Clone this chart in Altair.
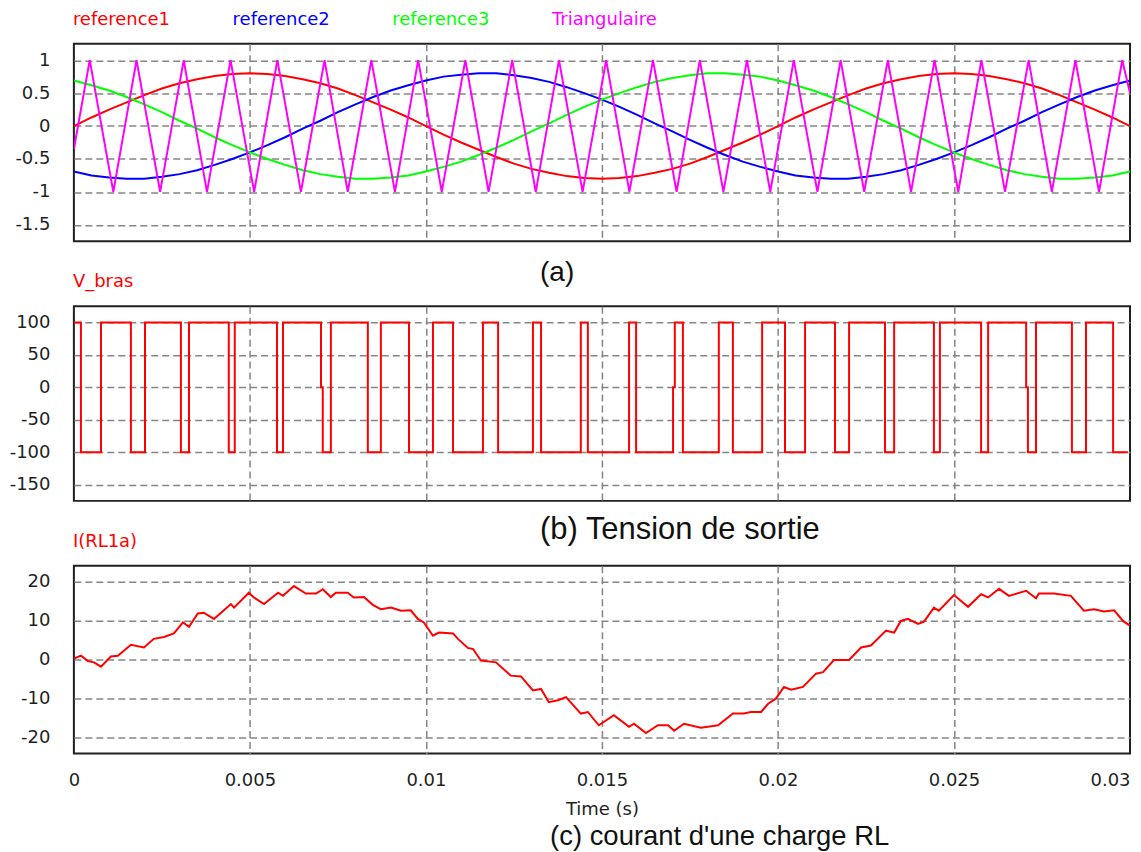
import altair as alt
import pandas as pd

# ---------------- data ----------------
T_REF = [0, 0.0005, 0.001, 0.0015, 0.002, 0.0025, 0.003, 0.0035, 0.004, 0.0045,
         0.005, 0.0055, 0.006, 0.0065, 0.007, 0.0075, 0.008, 0.0085, 0.009, 0.0095,
         0.01, 0.0105, 0.011, 0.0115, 0.012, 0.0125, 0.013, 0.0135, 0.014, 0.0145,
         0.015, 0.0155, 0.016, 0.0165, 0.017, 0.0175, 0.018, 0.0185, 0.019, 0.0195,
         0.02, 0.0205, 0.021, 0.0215, 0.022, 0.0225, 0.023, 0.0235, 0.024, 0.0245,
         0.025, 0.0255, 0.026, 0.0265, 0.027, 0.0275, 0.028, 0.0285, 0.029, 0.0295,
         0.03]

REF1 = [0, 0.13, 0.25, 0.36, 0.47, 0.57, 0.65, 0.71, 0.76, 0.79,
        0.80, 0.79, 0.76, 0.71, 0.65, 0.57, 0.47, 0.36, 0.25, 0.13,
        0, -0.13, -0.25, -0.36, -0.47, -0.57, -0.65, -0.71, -0.76, -0.79,
        -0.80, -0.79, -0.76, -0.71, -0.65, -0.57, -0.47, -0.36, -0.25, -0.13,
        0, 0.13, 0.25, 0.36, 0.47, 0.57, 0.65, 0.71, 0.76, 0.79,
        0.80, 0.79, 0.76, 0.71, 0.65, 0.57, 0.47, 0.36, 0.25, 0.13,
        0]

REF2 = [-0.69, -0.75, -0.78, -0.80, -0.80, -0.77, -0.73, -0.67, -0.59, -0.50,
        -0.40, -0.29, -0.17, -0.04, 0.08, 0.21, 0.33, 0.44, 0.54, 0.62,
        0.69, 0.75, 0.78, 0.80, 0.80, 0.77, 0.73, 0.67, 0.59, 0.50,
        0.40, 0.29, 0.17, 0.04, -0.08, -0.21, -0.33, -0.44, -0.54, -0.62,
        -0.69, -0.75, -0.78, -0.80, -0.80, -0.77, -0.73, -0.67, -0.59, -0.50,
        -0.40, -0.29, -0.17, -0.04, 0.08, 0.21, 0.33, 0.44, 0.54, 0.62,
        0.69]

REF3 = [0.69, 0.62, 0.54, 0.44, 0.33, 0.21, 0.08, -0.04, -0.17, -0.29,
        -0.40, -0.50, -0.59, -0.67, -0.73, -0.77, -0.80, -0.80, -0.78, -0.75,
        -0.69, -0.62, -0.54, -0.44, -0.33, -0.21, -0.08, 0.04, 0.17, 0.29,
        0.40, 0.50, 0.59, 0.67, 0.73, 0.77, 0.80, 0.80, 0.78, 0.75,
        0.69, 0.62, 0.54, 0.44, 0.33, 0.21, 0.08, -0.04, -0.17, -0.29,
        -0.40, -0.50, -0.59, -0.67, -0.73, -0.77, -0.80, -0.80, -0.78, -0.75,
        -0.69]

TRI_T = [0, 0.00045, 0.00112, 0.00178, 0.00245, 0.00312, 0.00378, 0.00445, 0.00512,
         0.00578, 0.00645, 0.00712, 0.00778, 0.00845, 0.00912, 0.00978, 0.01045,
         0.01112, 0.01178, 0.01245, 0.01312, 0.01378, 0.01445, 0.01512, 0.01578,
         0.01645, 0.01712, 0.01778, 0.01845, 0.01912, 0.01978, 0.02045, 0.02112,
         0.02178, 0.02245, 0.02312, 0.02378, 0.02445, 0.02512, 0.02578, 0.02645,
         0.02712, 0.02778, 0.02845, 0.02912, 0.02978, 0.03]
TRI_V = [-0.35, 1, -1, 1, -1, 1, -1, 1, -1,
         1, -1, 1, -1, 1, -1, 1, -1,
         1, -1, 1, -1, 1, -1, 1, -1,
         1, -1, 1, -1, 1, -1, 1, -1,
         1, -1, 1, -1, 1, -1, 1, -1,
         1, -1, 1, -1, 1, 0.5]

VB_T = [0, 0.0002, 0.00077, 0.00162, 0.00202, 0.00304, 0.00327, 0.0044, 0.00457,
        0.00577, 0.00594, 0.00702, 0.00707, 0.0073, 0.00835, 0.00872, 0.00952,
        0.0102, 0.01077, 0.01162, 0.01205, 0.01304, 0.01327, 0.0144, 0.0146,
        0.01577, 0.01597, 0.01702, 0.01707, 0.0173, 0.01832, 0.01872, 0.01955,
        0.0202, 0.02077, 0.02162, 0.02202, 0.02304, 0.0233, 0.02443, 0.0246,
        0.02577, 0.02597, 0.02705, 0.0271, 0.02733, 0.02835, 0.02875, 0.02952,
        0.02994]
VB_V = [100, -100, 100, -100, 100, -100, 100, -100, 100,
        -100, 100, 0, -100, 100, -100, 100, -100,
        100, -100, 100, -100, 100, -100, 100, -100,
        100, -100, 0, 100, -100, 100, -100, 100,
        -100, 100, -100, 100, -100, 100, -100, 100,
        -100, 100, 0, -100, 100, -100, 100, -100,
        -100]

I_T = [0, 0.0002, 0.0004, 0.00057, 0.00077, 0.00105, 0.00125, 0.00162, 0.00199,
       0.00227, 0.00256, 0.00284, 0.0031, 0.00327, 0.00352, 0.00369, 0.00398,
       0.00418, 0.00446, 0.00455, 0.00497, 0.00511, 0.0054, 0.0058, 0.00594,
       0.00625, 0.00659, 0.00688, 0.00707, 0.0073, 0.00744, 0.00778, 0.00795,
       0.00824, 0.00849, 0.00872, 0.00901, 0.00929, 0.00957, 0.00977, 0.00994,
       0.0102, 0.01037, 0.01077, 0.01091, 0.01119, 0.01134, 0.01156, 0.01199,
       0.01241, 0.0127, 0.01304, 0.01327, 0.01349, 0.01375, 0.01398, 0.0144,
       0.0146, 0.01491, 0.01534, 0.01577, 0.01591, 0.01625, 0.01659, 0.01688,
       0.01705, 0.01733, 0.01781, 0.0183, 0.01872, 0.01903, 0.01923, 0.01952,
       0.01972, 0.01994, 0.02017, 0.02037, 0.02071, 0.02108, 0.02128, 0.02159,
       0.02202, 0.02236, 0.02264, 0.02307, 0.0233, 0.02349, 0.02369, 0.02398,
       0.02415, 0.02443, 0.02457, 0.025, 0.0254, 0.02577, 0.02597, 0.02628,
       0.02656, 0.02705, 0.02733, 0.02741, 0.02784, 0.02832, 0.02869, 0.02898,
       0.02926, 0.02955, 0.0298, 0.03]
I_V = [0.25, 1, -0.4, -0.7, -1.8, 0.8, 1, 3.8, 3.1,
       5.3, 5.8, 6.7, 9.5, 8.4, 11.8, 12, 10.4,
       12, 14.2, 13.3, 17.1, 15.9, 14.2, 17.1, 16.3,
       18.8, 16.9, 16.9, 18, 16, 17.1, 17.1, 15.9,
       16, 14, 12.9, 13.3, 12.5, 12.6, 10.4, 9.5,
       6.1, 6.9, 6.7, 5.3, 3, 2.7, -0.25, -0.7,
       -4.1, -4.3, -7.9, -7.5, -10.9, -10.4, -9.6, -13.8,
       -13.4, -16.8, -14.2, -17.2, -16.4, -18.8, -16.8, -16.8,
       -18.2, -16.4, -17.4, -16.8, -13.8, -13.8, -13.4, -13.4,
       -11.3, -10, -7, -7.7, -7, -3.6, -3.2, -0.1,
       -0.1, 3.1, 3.6, 7.4, 6.9, 9.9, 10.4, 9.1,
       9.7, 13.3, 12.5, 16.5, 13.5, 16.7, 15.9, 18.1,
       16.3, 17.6, 15.7, 16.9, 16.9, 16.3, 12.5, 12.9,
       12.3, 12.6, 9.9, 8.7]

X_TICKS = [0, 0.005, 0.01, 0.015, 0.02, 0.025, 0.03]
YA_TICKS = [-1.5, -1, -0.5, 0, 0.5, 1]
YB_TICKS = [-150, -100, -50, 0, 50, 100]
YC_TICKS = [-20, -10, 0, 10, 20]

SERIES_A = ["reference1", "reference2", "reference3", "Triangulaire"]
COLORS_A = ["#ff0000", "#0000ff", "#00ff00", "#ff00ff"]

# ---------------- tables ----------------
df_a = pd.concat([
    pd.DataFrame({"t": T_REF, "v": REF1, "series": SERIES_A[0]}),
    pd.DataFrame({"t": T_REF, "v": REF2, "series": SERIES_A[1]}),
    pd.DataFrame({"t": T_REF, "v": REF3, "series": SERIES_A[2]}),
    pd.DataFrame({"t": TRI_T, "v": TRI_V, "series": SERIES_A[3]}),
], ignore_index=True)
df_b = pd.DataFrame({"t": VB_T, "v": VB_V, "series": "V_bras"})
df_c = pd.DataFrame({"t": I_T, "v": I_V, "series": "I(RL1a)"})

# ---------------- style ----------------
W = 1058
FONT = "DejaVu Sans"
GRID = dict(grid=True, gridColor="#858585", gridDash=[7, 4], gridWidth=1.5)
LABEL_COLOR = "#1f1f1f"

x_scale = alt.Scale(domain=[0, 0.03], nice=False, zero=False)
x_grid_op = {"condition": {"test": "datum.value <= 0 || datum.value >= 0.03", "value": 0}, "value": 1}


def x_axis_plain():
    return alt.Axis(values=X_TICKS, labels=False, ticks=False, domain=False,
                    title=None, gridOpacity=x_grid_op, **GRID)


def y_axis(vals):
    return alt.Axis(values=vals, labelExpr="toString(datum.value)", ticks=False,
                    tickSize=0, domain=False, title=None, labelPadding=24,
                    labelFont=FONT, labelFontSize=18, labelColor=LABEL_COLOR, **GRID)


def legend():
    return alt.Legend(orient="none", legendX=-19, legendY=-33, direction="horizontal",
                      title=None, symbolSize=0, symbolOpacity=0, symbolStrokeWidth=0,
                      labelOffset=0, columnPadding=44, padding=0,
                      labelFont=FONT, labelFontSize=18,
                      labelColor={"expr": "datum.label === 'reference2' ? '#0000ff' : "
                                          "datum.label === 'reference3' ? '#00ff00' : "
                                          "datum.label === 'Triangulaire' ? '#ff00ff' : '#ff0000'"})


def caption(text, dx, offset, size):
    return alt.TitleParams(text=text, orient="bottom", anchor="start", frame="group",
                           dx=dx, offset=offset, fontSize=size, font="Liberation Sans",
                           fontWeight="normal", color="#111111", baseline="top")


chart_a = alt.Chart(df_a).mark_line(strokeWidth=2, clip=True).encode(
    x=alt.X("t:Q", scale=x_scale, axis=x_axis_plain()),
    y=alt.Y("v:Q", scale=alt.Scale(domain=[-1.75, 1.25], nice=False, zero=False),
            axis=y_axis(YA_TICKS)),
    color=alt.Color("series:N", scale=alt.Scale(domain=SERIES_A, range=COLORS_A),
                    legend=legend()),
).properties(width=W, height=198, title=caption("(a)", 467, 18, 28))

chart_b = alt.Chart(df_b).mark_line(strokeWidth=2, interpolate="step-after", clip=True).encode(
    x=alt.X("t:Q", scale=x_scale, axis=x_axis_plain()),
    y=alt.Y("v:Q", scale=alt.Scale(domain=[-175, 125], nice=False, zero=False),
            axis=y_axis(YB_TICKS)),
    color=alt.Color("series:N", scale=alt.Scale(domain=["V_bras"], range=["#ff0000"]),
                    legend=legend()),
).properties(width=W, height=195, title=caption("(b) Tension de sortie", 467, 14, 31))

chart_c = alt.Chart(df_c).mark_line(strokeWidth=2, clip=True).encode(
    x=alt.X("t:Q", scale=x_scale,
            axis=alt.Axis(values=X_TICKS, labelExpr="toString(datum.value)", ticks=False,
                          tickSize=0, domain=False, labelPadding=18, labelFont=FONT,
                          labelFontSize=18, labelColor=LABEL_COLOR,
                          labelAlign={"condition": {"test": "datum.value >= 0.03", "value": "right"},
                                      "value": "center"},
                          title="Time (s)", titleFont=FONT, titleFontSize=18,
                          titleFontWeight="normal", titleColor=LABEL_COLOR, titlePadding=11,
                          gridOpacity=x_grid_op, **GRID)),
    y=alt.Y("v:Q", scale=alt.Scale(domain=[-24, 24], nice=False, zero=False),
            axis=y_axis(YC_TICKS)),
    color=alt.Color("series:N", scale=alt.Scale(domain=["I(RL1a)"], range=["#ff0000"]),
                    legend=legend()),
).properties(width=W, height=188, title=caption("(c) courant d'une charge RL", 477, 5, 27.5))

chart = alt.vconcat(chart_a, chart_b, chart_c, spacing=65, bounds="flush").resolve_scale(
    color="independent"
).properties(
    padding={"left": 0, "top": 1, "right": 2, "bottom": 0}
).configure_view(stroke="#202020", strokeWidth=2)

chart.save("out.html", embed_options={"renderer": "svg", "actions": False})
